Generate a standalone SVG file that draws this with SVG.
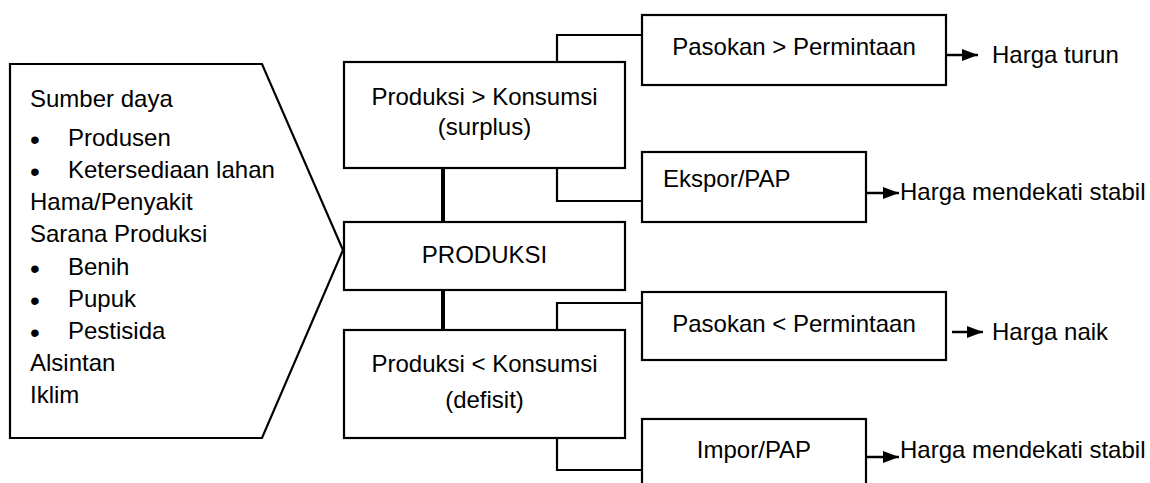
<svg xmlns="http://www.w3.org/2000/svg" width="1150" height="483" viewBox="0 0 1150 483">
<style>
  text { font-family: "Liberation Sans", Arial, sans-serif; font-size: 24px; fill: #000; }
  .c { text-anchor: middle; }
  .box { fill: #fff; stroke: #000; stroke-width: 2.2; }
  .thin { fill: none; stroke: #000; stroke-width: 2.2; }
  .thick { fill: none; stroke: #000; stroke-width: 4; }
  .arr { fill: none; stroke: #000; stroke-width: 2.5; }
  .bul { font-size: 28px; }
</style>
<defs>
  <marker id="ah" viewBox="0 0 16 12" refX="16" refY="6" markerWidth="16" markerHeight="12" markerUnits="userSpaceOnUse" orient="auto">
    <path d="M0,0 L16,6 L0,12 z" fill="#000"/>
  </marker>
</defs>
<rect width="1150" height="483" fill="#fff"/>

<g id="sumber">
  <polygon class="box" points="10,64 262,64 343,250 262,438 10,438"/>
  <text x="30" y="107">Sumber daya</text>
  <text x="30" y="146"><tspan class="bul" dy="3">•</tspan><tspan x="68" dy="-3">Produsen</tspan></text>
  <text x="30" y="178"><tspan class="bul" dy="3">•</tspan><tspan x="68" dy="-3">Ketersediaan lahan</tspan></text>
  <text x="30" y="210">Hama/Penyakit</text>
  <text x="30" y="242">Sarana Produksi</text>
  <text x="30" y="275"><tspan class="bul" dy="3">•</tspan><tspan x="68" dy="-3">Benih</tspan></text>
  <text x="30" y="307"><tspan class="bul" dy="3">•</tspan><tspan x="68" dy="-3">Pupuk</tspan></text>
  <text x="30" y="339"><tspan class="bul" dy="3">•</tspan><tspan x="68" dy="-3">Pestisida</tspan></text>
  <text x="30" y="371">Alsintan</text>
  <text x="30" y="403">Iklim</text>
</g>

<g id="connectors">
  <path class="thick" d="M443,168 V222"/>
  <path class="thick" d="M443,290 V330"/>
  <path class="thin" d="M557,62 V35 H642"/>
  <path class="thin" d="M557,168 V201 H642"/>
  <path class="thin" d="M557,330 V303 H642"/>
  <path class="thin" d="M557,438 V470 H642"/>
  <path class="arr" d="M946,55 H978" marker-end="url(#ah)"/>
  <path class="arr" d="M866,193 H899" marker-end="url(#ah)"/>
  <path class="arr" d="M952,332 H983" marker-end="url(#ah)"/>
  <path class="arr" d="M866,457 H899" marker-end="url(#ah)"/>
</g>

<g id="surplus">
  <rect class="box" x="344" y="62" width="281" height="106"/>
  <text class="c" x="484.5" y="105">Produksi &gt; Konsumsi</text>
  <text class="c" x="484.5" y="135">(surplus)</text>
</g>
<g id="produksi">
  <rect class="box" x="344" y="222" width="281" height="68"/>
  <text class="c" x="484.5" y="263">PRODUKSI</text>
</g>
<g id="defisit">
  <rect class="box" x="344" y="330" width="281" height="108"/>
  <text class="c" x="484.5" y="372">Produksi &lt; Konsumsi</text>
  <text class="c" x="484.5" y="408">(defisit)</text>
</g>
<g id="pasokan-lebih">
  <rect class="box" x="642" y="15" width="304" height="70"/>
  <text class="c" x="794" y="55">Pasokan &gt; Permintaan</text>
</g>
<g id="ekspor">
  <rect class="box" x="642" y="152" width="224" height="70"/>
  <text x="663" y="187">Ekspor/PAP</text>
</g>
<g id="pasokan-kurang">
  <rect class="box" x="642" y="292" width="304" height="68"/>
  <text class="c" x="794" y="332">Pasokan &lt; Permintaan</text>
</g>
<g id="impor">
  <rect class="box" x="642" y="419" width="224" height="80"/>
  <text class="c" x="754" y="458">Impor/PAP</text>
</g>

<g id="harga">
  <text x="992" y="63">Harga turun</text>
  <text x="900" y="200">Harga mendekati stabil</text>
  <text x="992" y="340">Harga naik</text>
  <text x="900" y="458">Harga mendekati stabil</text>
</g>
</svg>
